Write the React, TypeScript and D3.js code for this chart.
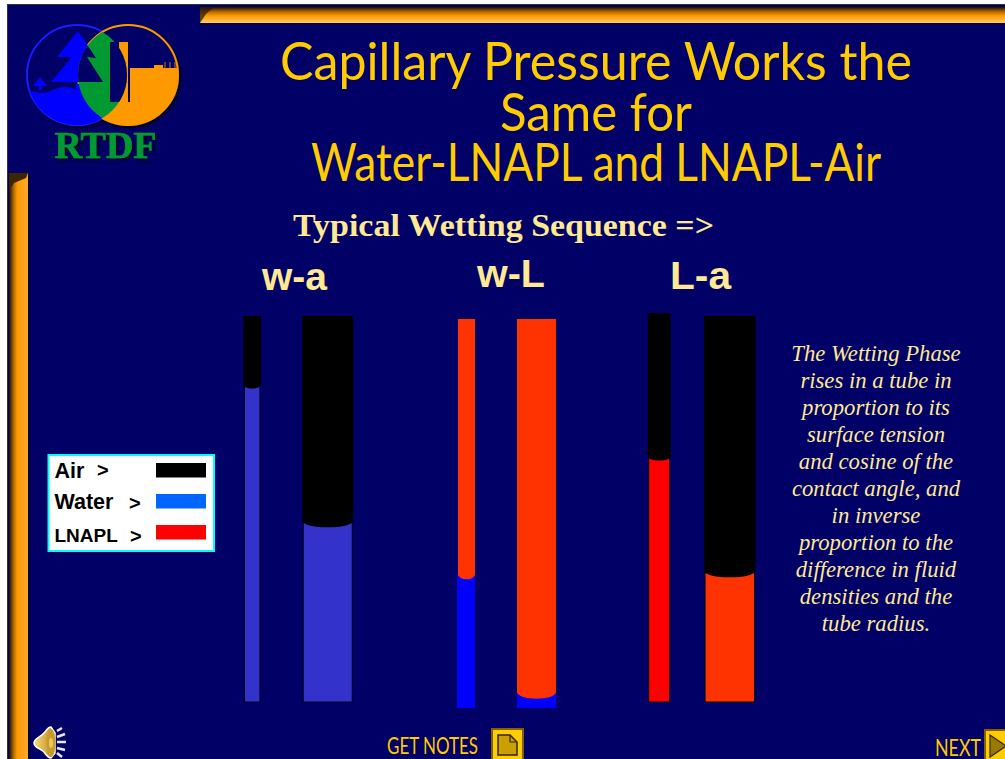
import React from 'react'
import * as d3 from 'd3'

const width = 1005
const height = 759

// tubes, left to right, three pairs of narrow + wide
const tubeNames = ['wa-narrow', 'wa-wide', 'wl-narrow', 'wl-wide', 'la-narrow', 'la-wide']
const tubeWidths = [17.5, 51, 17, 39, 23, 51.5]
const tubeTops = [386, 386, 383, 383, 389, 386] // height above y=702
const meniscusLevels = [317, 180, 127, 9, 245, 130] // wall level of the interface
const meniscusDips = [3.5, 5, 4, 5.5, 3.5, 5]
const tubeBottoms = [0, 0, -6, -6, 0, 0]
const upperFluid = ['#000000', '#000000', '#ff3300', '#ff3300', '#000000', '#000000']
const lowerFluid = ['#3333cc', '#3333cc', '#0000ff', '#0000ff', '#ff0000', '#ff3300']

const legendNames = ['Air', 'Water', 'LNAPL']
const legendColors = ['#000000', '#0066ff', '#ff0000']

const titleLines = ['Capillary Pressure Works the', 'Same for', 'Water-LNAPL and LNAPL-Air']
const pairLabels = ['w-a', 'w-L', 'L-a']
const noteLines = [
  'The Wetting Phase',
  'rises in a tube in',
  'proportion to its',
  'surface tension',
  'and cosine of the',
  'contact angle, and',
  'in inverse',
  'proportion to the',
  'difference in fluid',
  'densities and the',
  'tube radius.',
]

const y = d3.scaleLinear().domain([0, 400]).range([702, 302])
const xCentre = d3.scaleOrdinal<string, number>().domain(tubeNames).range([252.2, 327.7, 466.5, 536.5, 659.2, 729.8])

const NAVY = '#000066'
const GOLD = '#ffcc00'
const CREAM = '#ffe993'

function tubePaths(i: number) {
  const w = tubeWidths[i]
  const cx = xCentre(tubeNames[i])
  const x0 = cx - w / 2
  const x1 = cx + w / 2
  const level = y(meniscusLevels[i])
  const top = y(tubeTops[i])
  const bottom = y(tubeBottoms[i])
  const dip = meniscusDips[i]
  const outlined = tubeBottoms[i] === 0
  // lower fluid sits inside the glass outline; w-L narrow blue pokes out 1px
  const lowerX0 = outlined ? x0 + 1 : i === 2 ? x0 - 1 : x0
  const lowerX1 = outlined ? x1 - 1 : x1
  const lip = d3.line().curve(d3.curveBasis)([
    [x1, level],
    [x1, level],
    [x1 - w * 0.12, level + dip * 0.8],
    [cx, level + dip * 1.15],
    [x0 + w * 0.12, level + dip * 0.8],
    [x0, level],
    [x0, level],
  ])!
  return {
    lower: `M${lowerX0},${bottom}L${lowerX0},${level}L${lowerX1},${level}L${lowerX1},${bottom}Z`,
    upper: `M${x0},${top}L${x1},${top}L${lip.slice(1)}Z`,
    outlined,
  }
}

function Frame() {
  return (
    <g>
      <rect width={width} height={height} fill="#ffffff" />
      <rect x={7} y={4} width={width - 7} height={height - 4} fill={NAVY} />
      <rect x={7} y={4} width={width - 7} height={1} fill="#333333" />
      <rect x={7} y={4} width={1} height={height} fill="#333333" />
      <rect x={200} y={7} width={805} height={16} fill="url(#topBar)" />
      <path d="M200,7L214,7L206,14L200,23Z" fill="#2b1a00" opacity={0.75} />
      <rect x={200} y={23} width={805} height={2} fill="#00003a" />
      <rect x={9} y={173} width={19} height={586} fill="url(#leftBar)" />
      <path d="M9,173L28,173L26,178L14,183L9,190Z" fill="#3d2400" />
      <rect x={28} y={175} width={2} height={584} fill="#00003a" />
    </g>
  )
}

function Logo() {
  const treeBig = 'M78,31L96,58L87,57L103,82L51,82L72,57L57,57Z'
  const treeSmall = 'M40,77L47,86L42,86L42,90L39,90L39,86L33,86Z'
  const ground = 'M20,88C28,89 34,93 43,93C50,93 55,87 65,87C70,87 75,89 80,90L80,130L20,130Z'
  const building = 'M130,68L154,68L154,65L163,65L163,68L185,68L185,130L100,130L100,102L130,102Z'
  return (
    <g>
      <defs>
        <clipPath id="leftCircle"><circle cx={77} cy={75} r={50} /></clipPath>
        <clipPath id="rightCircle"><circle cx={128} cy={75} r={50} /></clipPath>
        <clipPath id="lens" clipPath="url(#leftCircle)"><circle cx={128} cy={75} r={50} /></clipPath>
      </defs>
      <g filter="url(#logoShadow)">
        <circle cx={77} cy={75} r={50} fill={NAVY} stroke="#1a1aff" strokeWidth={2} />
        <circle cx={128} cy={75} r={50} fill={NAVY} stroke="#ff9900" strokeWidth={2} />
        <g clipPath="url(#leftCircle)">
          <path d={treeBig} fill="#0000ff" />
          <path d={treeSmall} fill="#0000ff" />
          <path d={ground} fill="#0000ff" />
          <rect x={76} y={84} width={30} height={46} fill="#0000ff" />
        </g>
        <g clipPath="url(#rightCircle)">
          <path d={building} fill="#ff9900" />
          <rect x={119} y={42} width={9} height={62} fill="#ff9900" />
          <path d="M165,68L165,62M170,68L170,62M175,68L175,62" stroke="#ff9900" strokeWidth={0.8} />
        </g>
        <g clipPath="url(#lens)">
          <rect x={70} y={20} width={70} height={110} fill="#009933" />
          <path d={treeBig} fill={NAVY} />
          <rect x={110} y={42} width={30} height={60} fill={NAVY} />
        </g>
      </g>
      <text x={54.5} y={158} fontFamily="'Liberation Serif', serif" fontWeight="bold" fontSize={38} fill="#009933" stroke="#009933" strokeWidth={0.6} textLength={102} lengthAdjust="spacingAndGlyphs" filter="url(#logoShadow)">RTDF</text>
    </g>
  )
}

function Legend() {
  const sans = "'Liberation Sans', sans-serif"
  const nameBase = [478, 509, 542]
  const nameSize = [21.5, 21.5, 19]
  const arrowX = [97, 129, 130]
  const arrowBase = [477, 510, 543]
  const swatchY = [463, 494, 525]
  return (
    <g>
      <rect x={48.5} y={455} width={165.5} height={96} fill="#ffffff" stroke="#00ffff" strokeWidth={2} />
      {legendNames.map((name, i) => (
        <g key={name}>
          <text x={54.5} y={nameBase[i]} fontFamily={sans} fontWeight="bold" fontSize={nameSize[i]} fill="#000000">{name}</text>
          <text x={arrowX[i]} y={arrowBase[i]} fontFamily={sans} fontWeight="bold" fontSize={20} fill="#000000">{'>'}</text>
          <rect x={156} y={swatchY[i]} width={50} height={14.5} fill={legendColors[i]} />
        </g>
      ))}
    </g>
  )
}

function Speaker() {
  return (
    <g>
      <path d="M57,731L62,728M57,737L65,734M57,742L66,742M57,748L65,750M57,753L62,757" stroke="#e6e6ff" strokeWidth={2.5} />
      <path d="M34,743C34,738 40,738 45,732C47,729 49,727 51,727L55,733L55,753L51,758C49,758 46,755 44,752C40,748 34,748 34,743Z" fill="url(#speakerFill)" stroke="#ffffff" strokeWidth={1.5} />
      <ellipse cx={51} cy={743} rx={4.5} ry={14} fill="#c89b2c" />
      <ellipse cx={51} cy={743} rx={2} ry={5} fill="#e8c860" />
    </g>
  )
}

function NavButtons() {
  const labelFont = "'Lato', sans-serif"
  return (
    <g>
      <text x={387} y={754} fontFamily={labelFont} fontSize={24} fill={GOLD} textLength={91} lengthAdjust="spacingAndGlyphs">GET NOTES</text>
      <rect x={492} y={729} width={31} height={32} fill={GOLD} stroke="#806000" strokeWidth={2} />
      <path d="M498,735L510,735L517,742L517,755L498,755Z" fill="#cc9f00" stroke="#332600" strokeWidth={1.5} />
      <path d="M510,735L510,742L517,742" fill="none" stroke="#332600" strokeWidth={1.2} />
      <text x={935} y={756} fontFamily={labelFont} fontSize={24} fill={GOLD} textLength={46} lengthAdjust="spacingAndGlyphs">NEXT</text>
      <rect x={985} y={730} width={30} height={30} fill={GOLD} stroke="#806000" strokeWidth={2} />
      <path d="M990,735L1006,746L990,757Z" fill="#997a00" stroke="#332600" strokeWidth={1.2} />
    </g>
  )
}

export default function App() {
  const titleBaselines = [80, 131, 181]
  const titleLengths = [632, 192, 570]
  const titleStarts = [280, 500, 311]
  const labelX = [262, 477, 670]
  const labelY = [290, 287, 289]
  const labelW = [65, 68, 61]
  return (
    <svg width={width} height={height} style={{ position: 'absolute', left: 0, top: 0 }}>
      <defs>
        <linearGradient id="topBar" x1="0" x2="0" y1="0" y2="1">
          <stop offset="0" stopColor="#1a0f00" />
          <stop offset="0.3" stopColor="#b36b00" />
          <stop offset="0.55" stopColor="#ff9900" />
          <stop offset="1" stopColor="#ffcc66" />
        </linearGradient>
        <linearGradient id="leftBar" x1="0" x2="1" y1="0" y2="0">
          <stop offset="0" stopColor="#1a0f00" />
          <stop offset="0.25" stopColor="#b36b00" />
          <stop offset="0.42" stopColor="#ff9900" />
          <stop offset="1" stopColor="#ffa832" />
        </linearGradient>
        <linearGradient id="speakerFill" x1="0" x2="1" y1="0" y2="0">
          <stop offset="0" stopColor="#f5dc85" />
          <stop offset="1" stopColor="#b8860b" />
        </linearGradient>
        <filter id="logoShadow" x="-10%" y="-10%" width="125%" height="125%">
          <feDropShadow dx={2} dy={2} stdDeviation={1.5} floodColor="#000000" floodOpacity={0.7} />
        </filter>
      </defs>
      <Frame />
      <Logo />
      {titleLines.map((line, i) => (
        <text key={line} x={titleStarts[i]} y={titleBaselines[i]} fontFamily="'Lato', sans-serif" fontSize={52} fill={GOLD} textLength={titleLengths[i]} lengthAdjust="spacingAndGlyphs">{line}</text>
      ))}
      <text x={293} y={236} fontFamily="'Liberation Serif', serif" fontWeight="bold" fontSize={32} fill={CREAM} textLength={421} lengthAdjust="spacingAndGlyphs">{'Typical Wetting Sequence =>'}</text>
      {pairLabels.map((label, i) => (
        <text key={label} x={labelX[i]} y={labelY[i]} fontFamily="'Liberation Sans', sans-serif" fontWeight="bold" fontSize={38} fill={CREAM} textLength={labelW[i]} lengthAdjust="spacingAndGlyphs">{label}</text>
      ))}
      {tubeNames.map((name, i) => {
        const p = tubePaths(i)
        return (
          <g key={name}>
            <path d={p.lower} fill={lowerFluid[i]} stroke={p.outlined ? '#00001a' : 'none'} strokeWidth={1} />
            <path d={p.upper} fill={upperFluid[i]} />
          </g>
        )
      })}
      <Legend />
      {noteLines.map((line, i) => (
        <text key={line} x={876} y={361 + i * 27} textAnchor="middle" fontFamily="'Liberation Serif', serif" fontStyle="italic" fontSize={22.7} fill={CREAM}>{line}</text>
      ))}
      <Speaker />
      <NavButtons />
    </svg>
  )
}
